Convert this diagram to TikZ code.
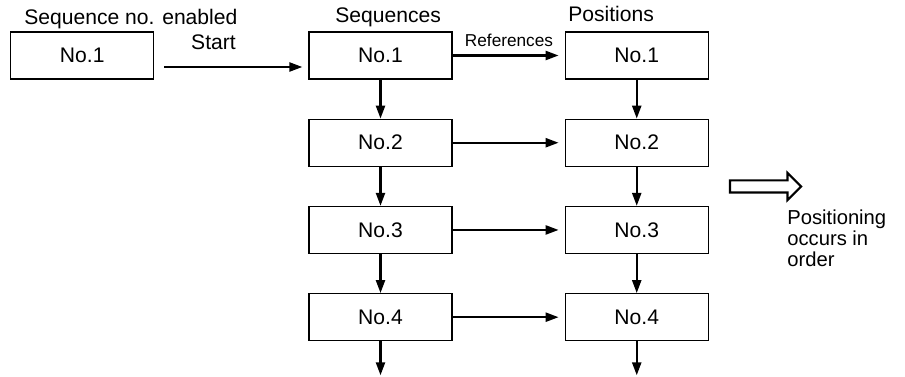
\documentclass[tikz,border=0pt]{standalone}
\usepackage{fontspec}
\setmainfont{Liberation Sans}
\usetikzlibrary{arrows.meta, positioning, shapes.arrows, calc}
\tikzset{
  arrowK/.style={-{Triangle[length=2.6mm, width=1.8mm]}, black, line width=1.3pt},
  boxNo/.style={rectangle, draw=black, line width=0.7pt, fill=white,
                minimum width=2.86cm, minimum height=0.94cm, inner sep=0pt,
                font=\fontsize{12}{12.5}\selectfont},
  headL/.style={font=\fontsize{12}{12.5}\selectfont, inner sep=0pt, anchor=base west},
  smallL/.style={font=\fontsize{9.8}{10}\selectfont, inner sep=0pt, anchor=base},
}
\begin{document}
\begin{tikzpicture}[node distance=0.78cm and 2.24cm]
    \useasboundingbox (0,0) rectangle (18.1,-7.54);
    % sequence column
    \node[boxNo] (s1) at (7.61,-1.11) {No.1};
    \node[boxNo, below=of s1] (s2) {No.2};
    \node[boxNo, below=of s2] (s3) {No.3};
    \node[boxNo, below=of s3] (s4) {No.4};
    % positions column
    \node[boxNo, right=of s1] (p1) {No.1};
    \node[boxNo, right=of s2] (p2) {No.2};
    \node[boxNo, right=of s3] (p3) {No.3};
    \node[boxNo, right=of s4] (p4) {No.4};
    % enabled sequence no.
    \node[boxNo, left=3.08cm of s1] (e1) {No.1};
    \node[headL] (hE) at (0.48,-0.5) {Sequence no. enabled};
    \node[headL] (hS) at (6.7,-0.46) {Sequences};
    \node[headL] (hP) at (11.36,-0.44) {Positions};
    % start / references
    \coordinate (st0) at ($(e1.east)+(0.2,-0.23)$);
    \coordinate (st1) at ($(s1.west)+(-0.12,-0.23)$);
    \draw[arrowK] (st0) -- (st1);
    \node[smallL, font=\fontsize{12}{12.5}\selectfont] (lS) at (4.27,-1.0) {Start};
    \draw[arrowK, shorten >=0.12cm] (s1) -- (p1);
    \node[smallL] (lR) at (10.18,-0.94) {References};
    \foreach \i in {2,3,4} {
      \draw[arrowK, shorten >=0.12cm] (s\i) -- (p\i);
    }
    \foreach \i/\j in {1/2,2/3,3/4} {
      \draw[arrowK] (s\i) -- (s\j);
      \draw[arrowK] (p\i) -- (p\j);
    }
    \coordinate (sEnd) at ($(s4.south)+(0,-0.68)$);
    \coordinate (pEnd) at ($(p4.south)+(0,-0.68)$);
    \draw[arrowK] (s4) -- (sEnd);
    \draw[arrowK] (p4) -- (pEnd);
    % hollow arrow and note
    \node[single arrow, draw=black, line width=1.2pt, fill=white, inner sep=0.1cm,
          single arrow head extend=0.15cm, minimum height=1.42cm] (hA) at (15.25,-3.73) {};
    \node[inner sep=0pt, anchor=north west, align=left,
          font=\fontsize{11.5}{11.8}\selectfont] (nT) at (15.74,-4.2)
          {Positioning\\occurs in\\order};
  \end{tikzpicture}
\end{document}
